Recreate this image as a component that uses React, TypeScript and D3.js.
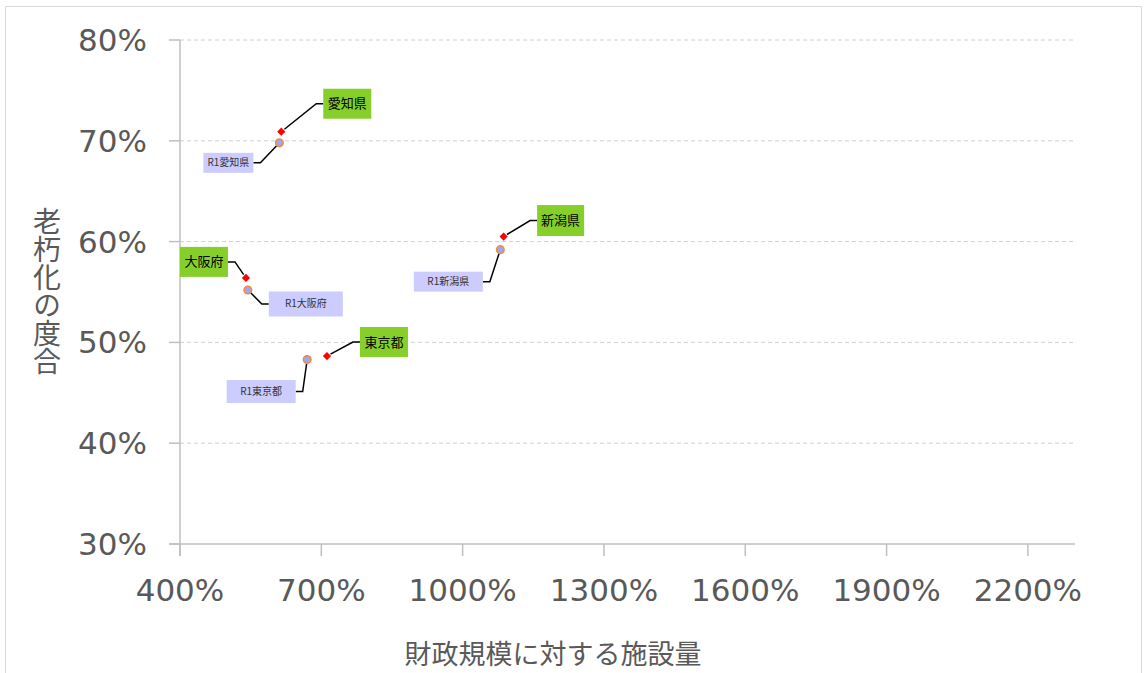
import React from "react";
import * as d3 from "d3";

const regionNames = ["愛知県", "大阪府", "東京都", "新潟県"];
const r1Names = ["R1愛知県", "R1大阪府", "R1東京都", "R1新潟県"];
const currentX = [615, 540, 712, 1087];
const currentY = [70.9, 56.4, 48.65, 60.5];
const r1X = [611, 544, 670, 1080];
const r1Y = [69.8, 55.2, 48.3, 59.2];
const xTicks = [400, 700, 1000, 1300, 1600, 1900, 2200];
const yTicks = [30, 40, 50, 60, 70, 80];
const xTitle = "財政規模に対する施設量";
const yTitle = "老朽化の度合";

// label layout (offset of box centre from marker, box size)
const curLabel = [
  { dx: 66, dy: -28, w: 48, h: 30 },
  { dx: -42, dy: -16, w: 48, h: 30 },
  { dx: 57, dy: -14, w: 48, h: 30 },
  { dx: 57, dy: -16, w: 47, h: 31 },
];
const r1Label = [
  { dx: -51, dy: 20, w: 50, h: 20 },
  { dx: 58, dy: 14, w: 74, h: 25 },
  { dx: -46, dy: 32, w: 69, h: 23 },
  { dx: -52, dy: 32, w: 69, h: 20 },
];

const W = 1145;
const H = 673;
const x = d3.scaleLinear().domain([400, 2300]).range([180, 1075]);
const y = d3.scaleLinear().domain([30, 80]).range([544, 40]);
const gray = "#595959";
const axisCol = "#bfbfbf";

function Leader({ px, py, bx, by, w, h }: any) {
  const left = bx > px;
  const ex = left ? bx - w / 2 : bx + w / 2;
  const kx = left ? ex - 7 : ex + 7;
  const ang = Math.atan2(by - py, kx - px);
  const sx = px + Math.cos(ang) * 4;
  const sy = py + Math.sin(ang) * 4;
  const line = d3.line()([
    [ex, by],
    [kx, by],
    [sx, sy],
  ] as any);
  return <path d={line || ""} fill="none" stroke="#000" strokeWidth={1.5} />;
}

export default function App() {
  const diamond = d3.symbol().type(d3.symbolSquare).size(34)();
  return (
    <svg width={W} height={H} style={{ position: "absolute", left: 0, top: 0 }}>
      <rect x={0} y={0} width={W} height={H} fill="#fff" />
      <path d={`M5.5,${H} V6.5 H1141.5 V${H}`} fill="none" stroke="#d9d9d9" strokeWidth={1} />
      {/* gridlines */}
      {yTicks.slice(1).map((t) => (
        <line key={t} x1={180} x2={1075} y1={y(t)} y2={y(t)} stroke="#d0d0d0" strokeDasharray="4,3" strokeWidth={1} />
      ))}
      {/* y axis */}
      <line x1={180} x2={180} y1={40} y2={556} stroke={axisCol} strokeWidth={1.5} />
      {yTicks.map((t) => (
        <line key={t} x1={169} x2={180} y1={y(t)} y2={y(t)} stroke={axisCol} strokeWidth={1.5} />
      ))}
      {/* x axis */}
      <line x1={169} x2={1075} y1={544} y2={544} stroke={axisCol} strokeWidth={1.5} />
      {xTicks.map((t) => (
        <line key={t} x1={x(t)} x2={x(t)} y1={544} y2={556} stroke={axisCol} strokeWidth={1.5} />
      ))}
      {yTicks.map((t) => (
        <text key={t} x={147} y={y(t) + 11} textAnchor="end" fontFamily="DejaVu Sans" fontSize={31} fill={gray}>
          {t}%
        </text>
      ))}
      {xTicks.map((t) => (
        <text key={t} x={x(t)} y={601} textAnchor="middle" fontFamily="DejaVu Sans" fontSize={31} fill={gray}>
          {t}%
        </text>
      ))}
      <text x={553} y={664} textAnchor="middle" fontFamily="Noto Sans CJK JP" fontSize={27} fill={gray}>
        {xTitle}
      </text>
      <text
        x={47}
        y={291}
        textAnchor="middle"
        fontFamily="Noto Sans CJK JP"
        fontSize={28}
        fill={gray}
        style={{ writingMode: "vertical-rl" as any }}
      >
        {yTitle}
      </text>
      {/* leaders */}
      {regionNames.map((n, i) => {
        const px = x(currentX[i]);
        const py = y(currentY[i]);
        const L = curLabel[i];
        return <Leader key={"lc" + i} px={px} py={py} bx={px + L.dx} by={py + L.dy} w={L.w} h={L.h} />;
      })}
      {r1Names.map((n, i) => {
        const px = x(r1X[i]);
        const py = y(r1Y[i]);
        const L = r1Label[i];
        return <Leader key={"lr" + i} px={px} py={py} bx={px + L.dx} by={py + L.dy} w={L.w} h={L.h} />;
      })}
      {/* markers */}
      {r1Names.map((n, i) => (
        <circle key={"c" + i} cx={x(r1X[i])} cy={y(r1Y[i])} r={3.8} fill="#9ea6f0" stroke="#ee8a3c" strokeWidth={1.5} />
      ))}
      {regionNames.map((n, i) => (
        <path
          key={"d" + i}
          d={diamond || ""}
          transform={`translate(${x(currentX[i])},${y(currentY[i])}) rotate(45)`}
          fill="#ff0000"
        />
      ))}
      {/* labels */}
      {regionNames.map((n, i) => {
        const px = x(currentX[i]);
        const py = y(currentY[i]);
        const L = curLabel[i];
        return (
          <g key={"gc" + i}>
            <rect x={px + L.dx - L.w / 2} y={py + L.dy - L.h / 2} width={L.w} height={L.h} fill="#86cf2a" />
            <text x={px + L.dx} y={py + L.dy + 4.5} textAnchor="middle" fontFamily="Noto Sans CJK JP" fontSize={13} fill="#000">
              {n}
            </text>
          </g>
        );
      })}
      {r1Names.map((n, i) => {
        const px = x(r1X[i]);
        const py = y(r1Y[i]);
        const L = r1Label[i];
        return (
          <g key={"gr" + i}>
            <rect x={px + L.dx - L.w / 2} y={py + L.dy - L.h / 2} width={L.w} height={L.h} fill="#ccccff" />
            <text x={px + L.dx} y={py + L.dy + 3.5} textAnchor="middle" fontFamily="Noto Sans CJK JP" fontSize={10} fill="#333">
              {n}
            </text>
          </g>
        );
      })}
    </svg>
  );
}
